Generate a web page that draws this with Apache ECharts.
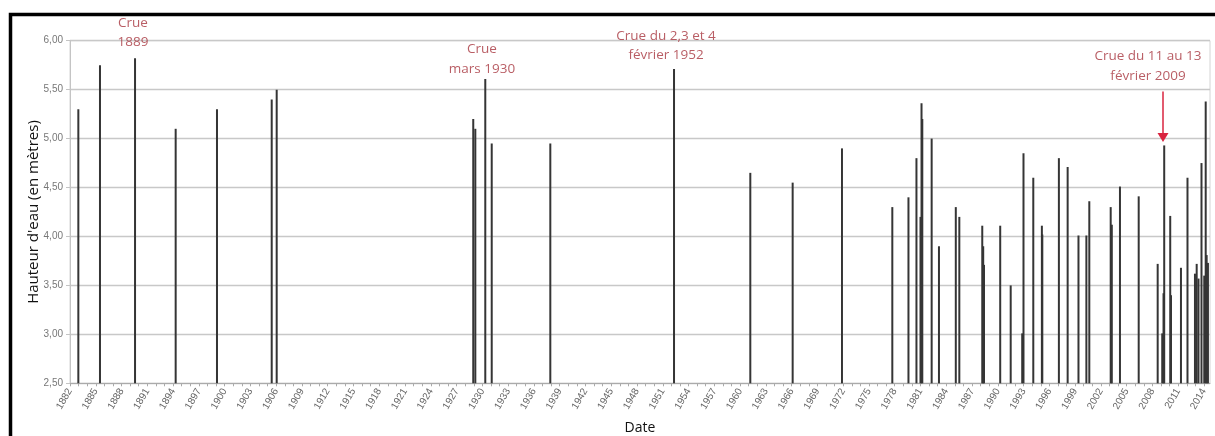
<!DOCTYPE html>
<html>
<head>
<meta charset="utf-8">
<script src="https://cdn.jsdelivr.net/npm/echarts@6/dist/echarts.min.js"></script>
<style>
html,body{margin:0;padding:0;background:#fff;}
#chart{width:1215px;height:436px;}
</style>
</head>
<body>
<div id="chart"></div>
<script>
// ---- Data (decimal year of each flood, water height in metres) ----
const floodYears = [
  1882.97, 1885.49, 1889.57, 1894.30, 1899.11, 1905.48, 1906.06,
  1928.94, 1929.18, 1930.34, 1931.09, 1937.91, 1952.31, 1961.19, 1966.12,
  1971.86, 1977.72, 1979.60, 1980.53, 1981.00, 1981.12, 1981.21, 1982.30,
  1983.15, 1985.11, 1985.52, 1988.19, 1988.30, 1988.39, 1990.28, 1991.50,
  1992.84, 1992.99, 1994.13, 1995.13, 1995.18, 1997.11, 1998.13, 1999.39,
  2000.31, 2000.65, 2003.14, 2003.27, 2004.22, 2006.40, 2008.61, 2009.14,
  2009.29, 2009.37, 2010.07, 2010.16, 2011.32, 2012.08, 2012.95, 2013.15,
  2013.36, 2013.71, 2014.03, 2014.20, 2014.31, 2014.46
];
const floodHeights = [
  5.30, 5.75, 5.82, 5.10, 5.30, 5.40, 5.50,
  5.20, 5.10, 5.61, 4.95, 4.95, 5.71, 4.65, 4.55,
  4.90, 4.30, 4.40, 4.80, 4.20, 5.36, 5.20, 5.00,
  3.90, 4.30, 4.20, 4.11, 3.90, 3.71, 4.11, 3.50,
  3.01, 4.85, 4.60, 4.11, 4.02, 4.80, 4.71, 4.01,
  4.01, 4.36, 4.30, 4.12, 4.51, 4.41, 3.72, 3.01,
  3.42, 4.93, 4.21, 3.40, 3.68, 4.60, 3.62, 3.72,
  3.57, 4.75, 3.60, 5.38, 3.81, 3.73
];
const xTickYears = [];
for (let y = 1882; y <= 2014; y += 3) xTickYears.push(y);
const xMinorYears = [];
for (let y = 1882; y <= 2014; y += 1) xMinorYears.push(y);
const yTicks = [2.5, 3.0, 3.5, 4.0, 4.5, 5.0, 5.5, 6.0];

// annotations: text, anchor year, anchor height
const annotationTexts = ['Crue\n1889', 'Crue\nmars 1930', 'Crue du 2,3 et 4\nfévrier 1952', 'Crue du 11 au 13\nfévrier 2009'];
const annotationYears = [1889.33, 1929.96, 1951.38, 2007.48];
const annotationHeights = [6.08, 5.81, 5.95, 5.74];
const arrowYear = 2009.23;
const arrowFrom = 5.48;
const arrowTo = 5.01;

const chart = echarts.init(document.getElementById('chart'), null, {renderer: 'canvas'});
const fmt = v => v.toFixed(2).replace('.', ',');

chart.setOption({
  animation: false,
  backgroundColor: '#fff',
  grid: {left: 70, right: 5, top: 40.7, bottom: 52.7, containLabel: false, outerBoundsMode: 'none',
    show: true, borderColor: '#d4d4d4', borderWidth: 1},
  xAxis: {
    type: 'value', min: 1882, max: 2014.7,
    name: 'Date', nameLocation: 'middle', nameGap: 38,
    nameTextStyle: {fontFamily: 'Open Sans', fontSize: 14, color: '#111'},
    axisLine: {show: true, lineStyle: {color: '#aaa', width: 1}},
    axisTick: {show: true, customValues: xMinorYears, length: 3, lineStyle: {color: '#aaa'}},
    axisLabel: {customValues: xTickYears, rotate: 60, fontSize: 10, color: '#666', fontFamily: 'Liberation Sans', margin: 6,
      formatter: v => String(Math.round(v))},
    splitLine: {show: false}
  },
  yAxis: {
    type: 'value', min: 2.5, max: 6.0, interval: 0.5,
    name: "Hauteur d'eau (en mètres)", nameLocation: 'middle', nameGap: 29, nameMoveOverlap: false,
    nameTextStyle: {fontFamily: 'Open Sans', fontSize: 15, color: '#111'},
    axisLine: {show: true, lineStyle: {color: '#c4c4c4'}},
    axisTick: {show: true, length: 4, lineStyle: {color: '#c4c4c4'}},
    axisLabel: {fontSize: 10, color: '#777', fontFamily: 'Liberation Sans', margin: 7, formatter: fmt},
    splitLine: {show: true, lineStyle: {color: '#c8c8c8', width: 1.3}}
  },
  series: [
    {
      type: 'bar',
      barWidth: 2,
      barGap: '-100%',
      itemStyle: {color: '#353535'},
      data: floodYears.map((y, i) => [y, floodHeights[i]]),
      markLine: {
        silent: true,
        symbol: ['none', 'triangle'],
        symbolSize: [11, 9],
        symbolRotate: 180,
        lineStyle: {color: '#d9243f', width: 1.5, type: 'solid'},
        label: {show: false},
        data: [[{coord: [arrowYear, arrowFrom]}, {coord: [arrowYear, arrowTo]}]]
      }
    },
    {
      type: 'scatter',
      clip: false,
      symbolSize: 0,
      silent: true,
      data: annotationTexts.map((t, i) => ({name: t, value: [annotationYears[i], annotationHeights[i]]})),
      label: {
        show: true, position: 'inside', formatter: p => p.name,
        color: '#a8363f', fontFamily: 'Open Sans', fontSize: 13.5, lineHeight: 19.5, align: 'center'
      }
    }
  ],
  graphic: [{
    type: 'rect', silent: true, z: 100,
    shape: {x: 10.5, y: 14.5, width: 1300, height: 600},
    style: {fill: 'none', stroke: '#000', lineWidth: 3.5}
  }]
});
</script>
</body>
</html>
